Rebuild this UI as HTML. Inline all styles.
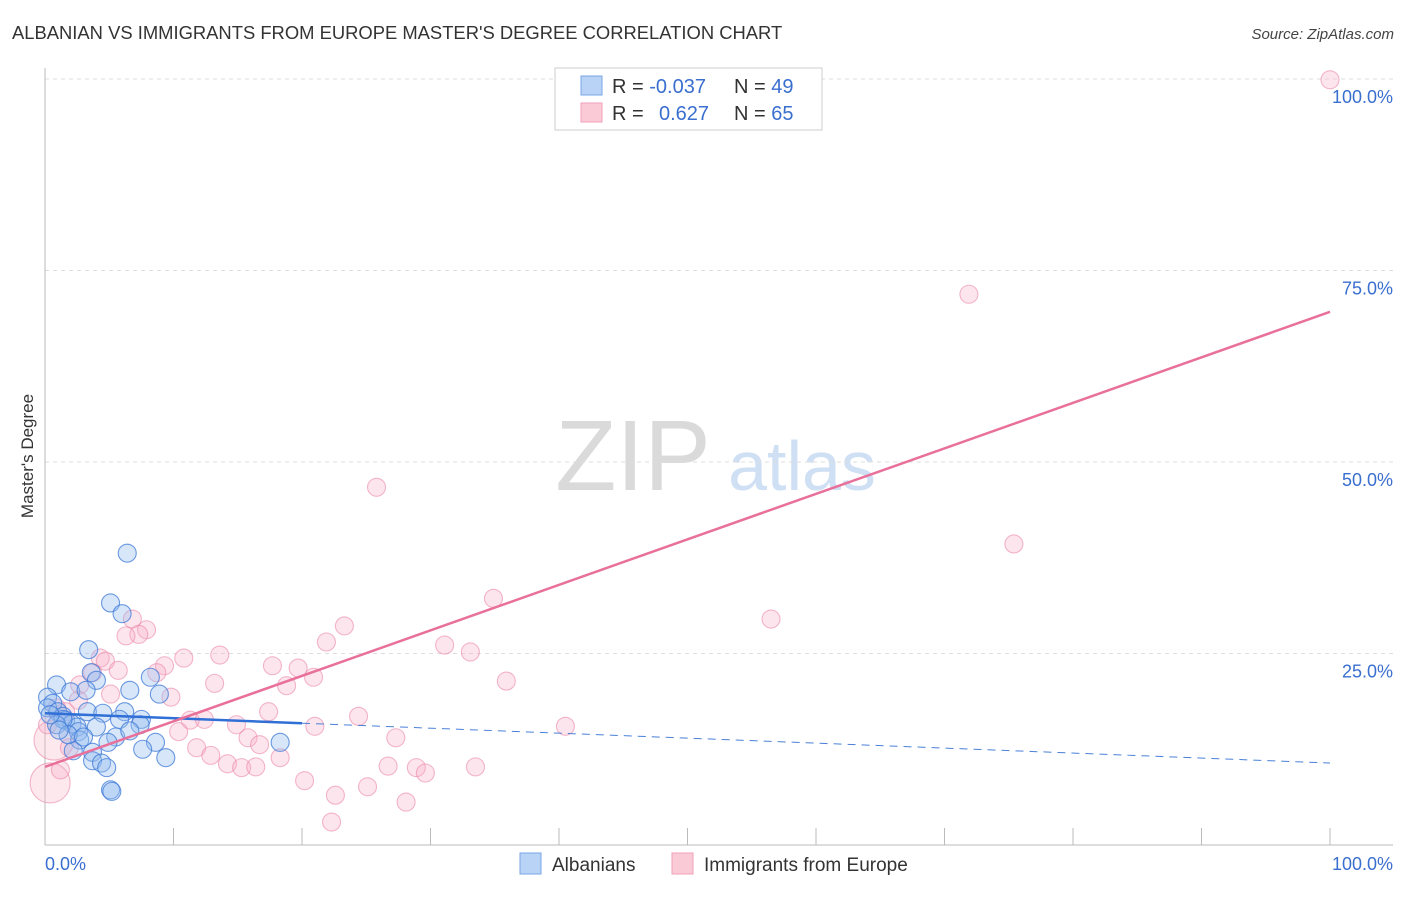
<!DOCTYPE html>
<html><head><meta charset="utf-8"><style>
body{margin:0;background:#fff;font-family:"Liberation Sans",sans-serif}
svg text{font-family:"Liberation Sans",sans-serif}
</style></head><body>
<svg id="c" width="1406" height="892" xmlns="http://www.w3.org/2000/svg">
<text x="12" y="39" font-size="18.4" fill="#333">ALBANIAN VS IMMIGRANTS FROM EUROPE MASTER'S DEGREE CORRELATION CHART</text>
<text x="1394" y="39" font-size="15" fill="#444" font-style="italic" text-anchor="end">Source: ZipAtlas.com</text>
<text transform="translate(33,456) rotate(-90)" font-size="17" fill="#333" text-anchor="middle">Master's Degree</text>
<g>
<text x="633" y="490" font-size="100" fill="#dadada" font-family="Liberation Serif" text-anchor="middle">ZIP</text>
<text x="802" y="490" font-size="70" fill="#cfdff4" text-anchor="middle">atlas</text>
</g>
<g id="grid"></g><g id="axes"></g><g id="pts"></g><g id="trend"></g>
<g>
<rect x="555" y="68" width="267" height="62" fill="#fff" stroke="#ccc"/>
<rect x="581" y="76" width="21" height="19" fill="#b8d3f5" stroke="#7aa6e6"/>
<rect x="581" y="103" width="21" height="19" fill="#fbcad7" stroke="#f0a0b8"/>
<text x="612" y="93" font-size="20" fill="#333">R = <tspan fill="#3a6fd0">-0.037</tspan></text>
<text x="734" y="93" font-size="20" fill="#333">N = <tspan fill="#3a6fd0">49</tspan></text>
<text x="612" y="120" font-size="20" fill="#333">R = <tspan fill="#3a6fd0" x="659">0.627</tspan></text>
<text x="734" y="120" font-size="20" fill="#333">N = <tspan fill="#3a6fd0">65</tspan></text>
</g>
<g>
<rect x="520" y="853" width="21" height="21" fill="#b8d3f5" stroke="#7aa6e6"/>
<text x="552" y="871" font-size="19" fill="#333">Albanians</text>
<rect x="672" y="853" width="21" height="21" fill="#fbcad7" stroke="#f0a0b8"/>
<text x="704" y="871" font-size="19" fill="#333">Immigrants from Europe</text>
</g>
</svg>
<script>
const blueX=[6.4,5.1,6.0,3.4,3.6,4.0,0.9,2.0,3.2,6.6,8.9,8.2,0.2,0.6,0.2,1.0,1.4,1.6,2.1,2.5,3.3,4.5,6.2,5.8,7.5,7.4,4.0,2.6,2.7,5.5,6.6,8.6,7.6,2.2,3.7,3.7,4.4,4.8,9.4,18.3,5.1,5.2,1.4,0.9,0.4,1.8,3.0,1.1,4.9];
const blueY=[38.1,31.6,30.2,25.5,22.5,21.5,20.9,20.0,20.2,20.2,19.7,21.9,19.3,18.5,17.9,17.4,16.8,16.3,15.8,15.4,17.4,17.2,17.4,16.4,16.4,15.7,15.4,14.8,13.7,14.1,14.9,13.4,12.5,12.3,12.1,11.0,10.7,10.1,11.4,13.4,7.2,7.0,16.4,15.7,17.0,14.4,14.1,15.0,13.4];
const pinkX=[100,71.9,25.8,75.4,34.9,56.5,6.8,7.9,7.3,6.3,23.3,21.9,31.1,33.1,13.6,4.3,4.7,10.8,9.3,17.7,19.7,5.7,3.7,8.7,20.9,35.9,13.2,18.8,2.7,5.1,9.8,2.6,0.9,1.6,17.4,24.4,11.3,12.4,14.9,21.0,40.5,10.4,15.8,27.3,11.8,16.7,12.9,18.3,14.2,15.3,16.4,26.7,28.9,29.6,33.5,20.2,25.1,22.6,28.1,22.3,0.7,0.4,1.2,0.2,1.9];
const pinkY=[99.9,71.9,46.7,39.3,32.2,29.5,29.5,28.1,27.5,27.3,28.6,26.5,26.1,25.2,24.8,24.4,24.0,24.4,23.4,23.4,23.1,22.8,22.5,22.5,21.9,21.4,21.1,20.8,20.9,19.7,19.3,18.9,17.9,17.4,17.4,16.8,16.3,16.4,15.7,15.5,15.5,14.8,14.0,14.0,12.7,13.1,11.7,11.4,10.6,10.1,10.2,10.3,10.1,9.4,10.2,8.4,7.6,6.5,5.6,3.0,13.7,8.1,9.8,15.7,12.7];
const pinkBig=[60,61];
const blueTrend=[17.2,10.7], blueSolidEnd=20;
const pinkTrend=[10.2,69.6];
const yTicks=[25,50,75,100];
const ns="http://www.w3.org/2000/svg";
const X=v=>45+v*12.85, Y=v=>845-v*7.66;
function mk(tag,attrs,parent){const e=document.createElementNS(ns,tag);for(const k in attrs)e.setAttribute(k,attrs[k]);document.getElementById(parent).appendChild(e);return e;}
yTicks.forEach(t=>{
 const g=mk('line',{x1:45,x2:1393,y1:Y(t),y2:Y(t),stroke:'#ddd','stroke-dasharray':'4,4'},'grid');
 
 
 const l=mk('text',{x:1393,y:Y(t)+24,'font-size':18,fill:'#3a6fd0','text-anchor':'end'},'grid');
 l.textContent=t.toFixed(1)+'%';
 
 
});
const ax=mk('line',{x1:45,x2:45,y1:68,y2:845,stroke:'#bbb'},'axes');


const bx=mk('line',{x1:45,x2:1393,y1:845,y2:845,stroke:'#bbb'},'axes');


for(let i=0;i<=10;i++){const t=mk('line',{x1:X(i*10),x2:X(i*10),y1:828,y2:845,stroke:'#bbb'},'axes');
 
 }
[[0,'0.0%','start',45],[100,'100.0%','end',1393]].forEach(a=>{const t=mk('text',{x:a[3],y:870,'font-size':18,fill:'#3a6fd0','text-anchor':a[2]},'axes');t.textContent=a[1];
 
 });
pinkX.forEach((v,i)=>{const big=pinkBig.includes(i);const c=mk('circle',{cx:X(v),cy:Y(pinkY[i]),r:big?20:9,fill:big?'rgba(248,180,200,0.3)':'rgba(248,175,198,0.32)',stroke:'rgba(235,135,168,0.6)','stroke-width':1.1},'pts');
 
 });
blueX.forEach((v,i)=>{const c=mk('circle',{cx:X(v),cy:Y(blueY[i]),r:9,fill:'rgba(150,190,240,0.38)',stroke:'rgba(60,120,215,0.75)','stroke-width':1.1},'pts');
 
 });
const bAt=x=>blueTrend[0]+(blueTrend[1]-blueTrend[0])*x/100;
const b1=mk('line',{x1:X(0),y1:Y(bAt(0)),x2:X(blueSolidEnd),y2:Y(bAt(blueSolidEnd)),stroke:'#2f6fd6','stroke-width':2.5},'trend');


const b2=mk('line',{x1:X(blueSolidEnd),y1:Y(bAt(blueSolidEnd)),x2:X(100),y2:Y(bAt(100)),stroke:'#4a80d8','stroke-width':1,'stroke-dasharray':'8,6'},'trend');


const p1=mk('line',{x1:X(0),y1:Y(pinkTrend[0]),x2:X(100),y2:Y(pinkTrend[1]),stroke:'#e8709a','stroke-width':2.5},'trend');


</script>
</body></html>
